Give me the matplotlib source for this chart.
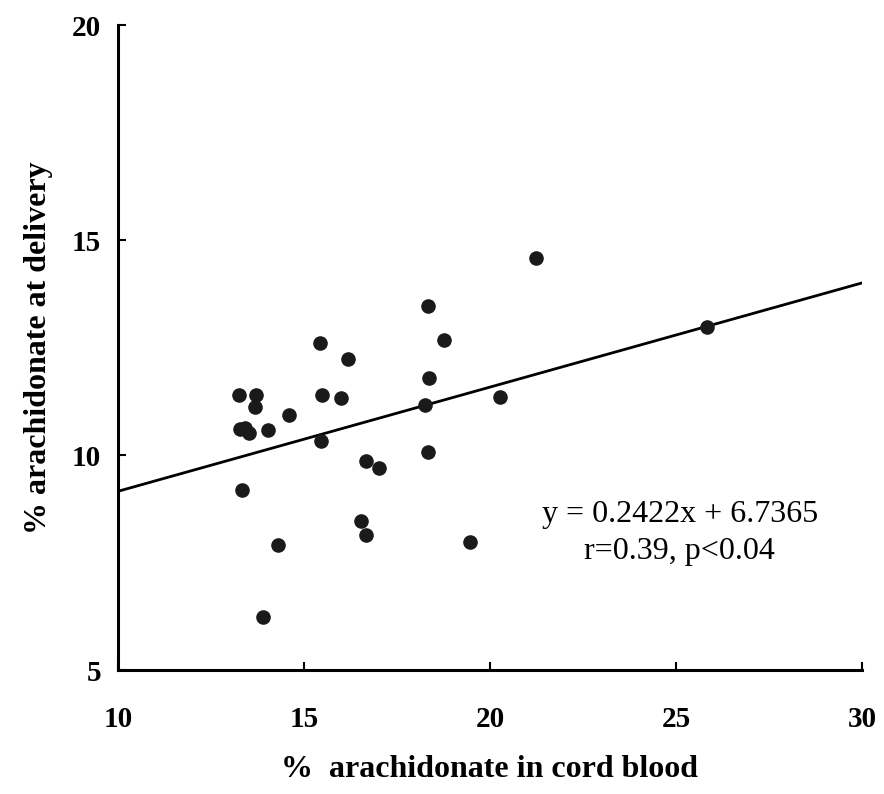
import matplotlib.pyplot as plt
import numpy as np

# % arachidonate in cord blood (x) vs at delivery (y)
cord_blood = [13.25, 13.71, 13.68, 14.60, 15.48, 15.99, 13.28, 13.41, 13.52, 14.03,
              15.46, 16.67, 17.02, 13.33, 16.53, 16.67, 14.30, 13.90, 18.33, 15.43,
              18.76, 16.18, 18.36, 18.25, 20.27, 18.33, 19.46, 21.24, 25.83]
delivery = [11.39, 11.39, 11.11, 10.93, 11.39, 11.32, 10.60, 10.63, 10.51, 10.58,
            10.32, 9.86, 9.70, 9.19, 8.47, 8.14, 7.91, 6.24, 13.46, 12.60,
            12.67, 12.23, 11.79, 11.16, 11.35, 10.07, 7.98, 14.59, 12.97]

slope = 0.2422
intercept = 6.7365
x_ticks = [10, 15, 20, 25, 30]
y_ticks = [5, 10, 15, 20]

plt.rcParams['font.family'] = ['Liberation Serif', 'DejaVu Serif']

fig = plt.figure(figsize=(8.84, 7.94), dpi=100)
ax = fig.add_axes([0.1335, 0.156, 0.8415, 0.8125])

ax.scatter(cord_blood, delivery, s=90, color='#1a1a1a', zorder=3)

line_x = np.array([10, 30])
ax.plot(line_x, slope * line_x + intercept, color='black', lw=2)

ax.set_xlim(10, 30)
ax.set_ylim(5, 20)
ax.set_xticks(x_ticks)
ax.set_yticks(y_ticks)
ax.spines['top'].set_visible(False)
ax.spines['right'].set_visible(False)
ax.spines['left'].set_linewidth(2.2)
ax.spines['bottom'].set_linewidth(2.2)
ax.tick_params(direction='in', length=6, width=1.5)
ax.tick_params(axis='x', pad=26, labelsize=21)
ax.tick_params(axis='y', pad=12, labelsize=21)
for lab in ax.get_xticklabels() + ax.get_yticklabels():
    lab.set_fontweight('bold')

ax.set_xlabel('%  arachidonate in cord blood', fontsize=23, fontweight='bold', labelpad=16)
ax.set_ylabel('% arachidonate at delivery', fontsize=23, fontweight='bold', labelpad=14)

ax.text(25.1, 8.63, 'y = 0.2422x + 6.7365', fontsize=23, ha='center', va='center')
ax.text(25.1, 7.75, 'r=0.39, p<0.04', fontsize=23, ha='center', va='center')

fig.savefig('out.png', dpi=100)
